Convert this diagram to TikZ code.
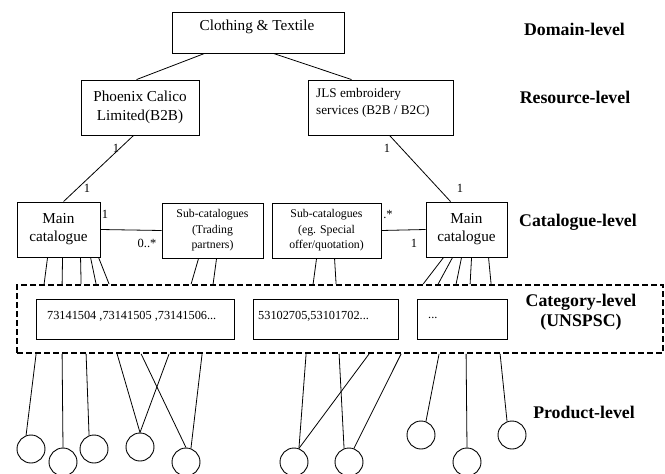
\documentclass[tikz,border=0pt]{standalone}
\usepackage{fontspec}
\setmainfont{Liberation Serif}
\begin{document}
\begin{tikzpicture}[x=1pt,y=-1pt,
  box/.style={draw, line width=0.9pt, inner sep=0pt, align=center},
  conn/.style={line width=0.8pt},
  dashbox/.style={draw, line width=1.8pt, dash pattern=on 6pt off 3pt, inner sep=0pt},
  prod/.style={draw, circle, line width=0.9pt, minimum size=28pt, inner sep=0pt},
  lvl/.style={font=\fontsize{17.8}{20}\selectfont\bfseries, inner sep=0pt, align=center},
  mult/.style={font=\fontsize{12.5}{14}\selectfont, inner sep=0pt},
  big/.style={font=\fontsize{15.2}{18}\selectfont},
  small/.style={font=\fontsize{11.8}{15.5}\selectfont},
  code/.style={font=\fontsize{12.3}{14}\selectfont, inner sep=0pt, anchor=west}]
\useasboundingbox (0,0) rectangle (665,474);
\fill[white] (0,0) rectangle (665,474);

% boxes
\node[box, minimum width=172pt, minimum height=41pt] (cl) at (258,32.5) {};
\node[big, inner sep=0pt] (cltxt) at (257,27) {Clothing \& Textile};
\node[box, minimum width=118pt, minimum height=55pt, font=\fontsize{15.2}{19}\selectfont] (ph) at (140,107.5) {Phoenix Calico\\Limited(B2B)};
\node[box, minimum width=145pt, minimum height=55pt] (jls) at (380.5,107.5) {};
\node[inner sep=0pt, anchor=west, align=left, font=\fontsize{13.2}{17}\selectfont] (jlstxt) at (316,102.5) {JLS embroidery\\services (B2B / B2C)};

\node[box, big, minimum width=83pt, minimum height=55pt] (ml) at (58.5,229.5) {Main\\catalogue};
\node[box, small, minimum width=101pt, minimum height=55pt] (tr) at (212.5,230.5) {Sub-catalogues\\(Trading\\partners)};
\node[box, small, minimum width=109pt, minimum height=55pt] (sp) at (326.5,230.5) {Sub-catalogues\\(eg. Special\\offer/quotation)};
\node[box, big, minimum width=81pt, minimum height=55pt] (mr) at (466.5,229.5) {Main\\catalogue};

% category level
\node[dashbox, minimum width=646pt, minimum height=68pt] (cat) at (340,319) {};
\node[box, minimum width=198pt, minimum height=40pt] (b1) at (135,319) {};
\node[box, minimum width=145pt, minimum height=40pt] (b2) at (325.5,319) {};
\node[box, minimum width=90pt, minimum height=40pt] (b3) at (462,319) {};
\node[code] (b1t) at (47,316) {73141504 ,73141505 ,73141506...};
\node[code] (b2t) at (258,316) {53102705,53101702...};
\node[code] (b3t) at (428,318) {...};

% level labels
\node[lvl] (lv1) at (574.5,29) {Domain-level};
\node[lvl] (lv2) at (575,97) {Resource-level};
\node[lvl] (lv3) at (578,222) {Catalogue-level};
\node[lvl, font=\fontsize{17.8}{19.5}\selectfont\bfseries] (lv4) at (581,312) {Category-level\\(UNSPSC)};
\node[lvl] (lv5) at (584,412) {Product-level};

% products
\node[prod] (p1) at (31,449) {};
\node[prod] (p2) at (63,462) {};
\node[prod] (p3) at (94,449) {};
\node[prod] (p4) at (140,447) {};
\node[prod] (p5) at (186,462) {};
\node[prod] (p6) at (294,462) {};
\node[prod] (p7) at (349,462) {};
\node[prod] (p8) at (421,435) {};
\node[prod] (p9) at (467,462) {};
\node[prod] (p10) at (512,435) {};

% top connectors
\draw[conn] ([xshift=33pt]cl.south west) -- ([xshift=56pt]ph.north west);
\draw[conn] ([xshift=102pt]cl.south west) -- ([xshift=44pt]jls.north west);
\draw[conn] ([xshift=53pt]ph.south west) -- ([xshift=47pt]ml.north west);
\draw[conn] ([xshift=82pt]jls.south west) -- ([xshift=25pt]mr.north west);
\draw[conn] (ml.east) -- (tr.west);
\draw[conn] (sp.east) -- (mr.west);

% multiplicities
\node[mult] (m1) at (116,148) {1};
\node[mult] (m2) at (87,188) {1};
\node[mult] (m3) at (387,148) {1};
\node[mult] (m4) at (460,188) {1};
\node[mult] (m5) at (105,214) {1};
\node[mult] (m6) at (147,243) {0..*};
\node[mult] (m7) at (388,214) {.*};
\node[mult] (m8) at (414,243) {1};

% catalogue to category
\foreach \a/\b in {31/28, 46/46, 64/65, 74/80, 82/93}
  \draw[conn] ([xshift=\a pt]ml.south west) -- ([xshift=\b pt]cat.north west);
\foreach \a/\b in {37/175, 55/197}
  \draw[conn] ([xshift=\a pt]tr.south west) -- ([xshift=\b pt]cat.north west);
\foreach \a/\b in {45/297, 63/320}
  \draw[conn] ([xshift=\a pt]sp.south west) -- ([xshift=\b pt]cat.north west);
\foreach \a/\b in {18/407, 27/422, 36/440, 46/454, 63/475}
  \draw[conn] ([xshift=\a pt]mr.south west) -- ([xshift=\b pt]cat.north west);

% category to products
\foreach \a/\p in {20/p1.110, 46/p2.north, 70/p3.110, 101/p4.north, 153/p4.north,
                   125/p5.north, 186/p5.70, 290/p6.70, 353/p6.70, 323/p7.110,
                   385/p7.70, 423/p8.70, 450/p9.north, 484/p10.110}
  \draw[conn] ([xshift=\a pt]cat.south west) -- (\p);
\end{tikzpicture}
\end{document}
